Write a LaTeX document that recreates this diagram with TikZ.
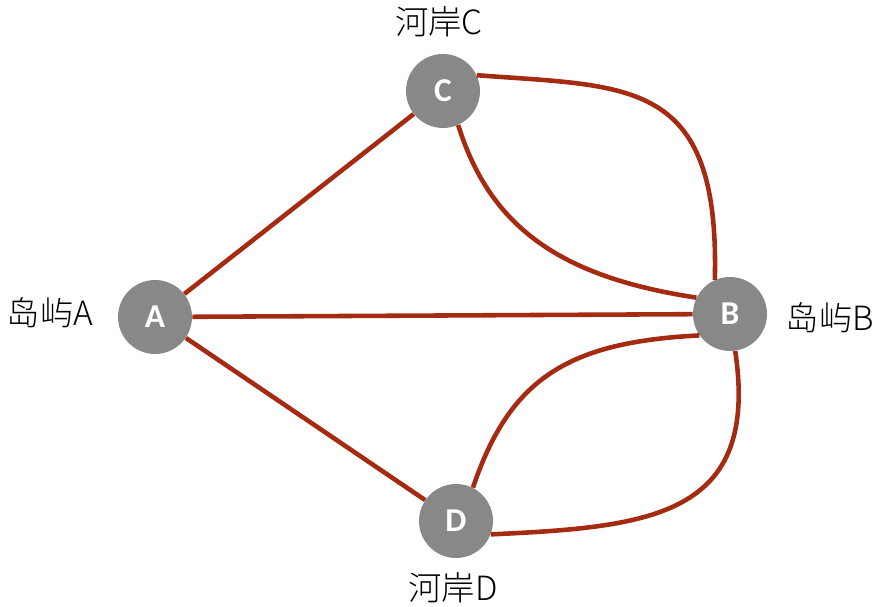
\documentclass[tikz,border=0pt]{standalone}
\usepackage{fontspec}
\setmainfont{Carlito}
\newfontfamily\cjk{Noto Sans CJK SC Light}
\usepackage{tikz}
\usetikzlibrary{positioning}
\definecolor{brg}{RGB}{165,42,18}
\definecolor{ndgray}{RGB}{136,136,136}

\begin{document}
\begin{tikzpicture}[x=0.02cm,y=0.02cm,
  nd/.style={circle,fill=ndgray,text=white,inner sep=0pt,minimum size=1.48cm,
    font=\fontsize{19}{21}\selectfont\bfseries},
  lb/.style={font=\cjk\fontsize{19}{22}\selectfont,inner sep=0pt},
  br/.style={draw=brg,line width=2.6pt}]
  \useasboundingbox (0,0) rectangle (884,607);
  \node[nd] (a) at (155,290) {A};
  \node[nd] (c) at (443,516) {C};
  \node[nd] (b) at (730,293) {B};
  \node[nd] (d) at (456,86)  {D};
  \node[lb] (la) at (50,294)  {岛屿A};
  \node[lb] (lc) at (439,585) {河岸C};
  \node[lb] (lbb) at (830,289) {岛屿B};
  \node[lb] (ld) at (453,19)  {河岸D};
  \draw[br] (a) -- (c);
  \draw[br] (a) -- (b);
  \draw[br] (a) -- (d);
  \draw[br] (c.25)  .. controls (630,520) and (720,530) .. (b.114);
  \draw[br] (c.-66) .. controls (490,380) and (560,330) .. (b.154);
  \draw[br] (d.63)  .. controls (510,230) and (570,265) .. (b.215);
  \draw[br] (d.-21) .. controls (650,80) and (760,90) .. (b.-82);
\end{tikzpicture}
\end{document}
